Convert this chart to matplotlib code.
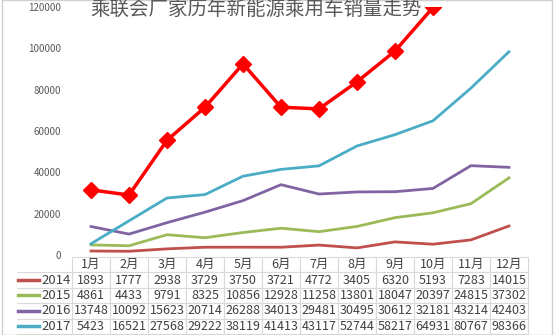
import matplotlib
matplotlib.use("Agg")
import matplotlib.pyplot as plt
from matplotlib.patches import Rectangle

plt.rcParams['font.family'] = ['Noto Sans CJK SC', 'DejaVu Sans']

months = ["1月", "2月", "3月", "4月", "5月", "6月", "7月", "8月", "9月", "10月", "11月", "12月"]
years = ["2014", "2015", "2016", "2017"]
sales_2014 = [1893, 1777, 2938, 3729, 3750, 3721, 4772, 3405, 6320, 5193, 7283, 14015]
sales_2015 = [4861, 4433, 9791, 8325, 10856, 12928, 11258, 13801, 18047, 20397, 24815, 37302]
sales_2016 = [13748, 10092, 15623, 20714, 26288, 34013, 29481, 30495, 30612, 32181, 43214, 42403]
sales_2017 = [5423, 16521, 27568, 29222, 38119, 41413, 43117, 52744, 58217, 64931, 80767, 98366]
# unlabeled red series (Jan-Oct only)
sales_red = [31500, 29000, 55500, 71500, 92500, 71500, 70700, 83800, 98700, 119800]

series = [sales_2014, sales_2015, sales_2016, sales_2017]
colors = ["#c0504d", "#9bbb59", "#8064a2", "#4bacc6"]

fig = plt.figure(figsize=(5.54, 3.35), dpi=100)
ax = fig.add_axes([0.130, 0.239, 0.823, 0.740])

x = range(len(months))
for vals, c in zip(series, colors):
    ax.plot(x, vals, color=c, lw=2)
ax.plot(range(len(sales_red)), sales_red, color="#ff0000", lw=2.5,
        marker="D", markersize=8)

ax.set_xlim(-0.5, 11.5)
ax.set_ylim(0, 120000)
ax.set_yticks(range(0, 120001, 20000))
ax.set_xticks([])
ax.tick_params(axis="y", length=0, pad=8, labelsize=7, labelcolor="#595959")
for s in ax.spines.values():
    s.set_visible(False)

cells = [[str(v) for v in vals] for vals in series]
tab = ax.table(cellText=cells, rowLabels=years, colLabels=months,
               colWidths=[1 / 12] * 12,
               cellLoc="center", rowLoc="right",
               bbox=[0, -0.319, 1, 0.311])
tab._autoColumns = []
tab.auto_set_font_size(False)
tab.set_fontsize(9)
for (r, c), cell in tab.get_celld().items():
    cell.set_edgecolor("#d9d9d9")
    cell.set_linewidth(0.8)
    cell.get_text().set_color("#404040")
    cell.PAD = 0.02
    if c == -1:
        cell.set_width(0.12)
        cell.visible_edges = "BT"
        cell.get_text().set_fontsize(9.5)

# legend keys in the row label column
row_h = 0.311 / 5
for i, c in enumerate(colors):
    yc = -0.319 + 0.311 - row_h * (i + 1.5)
    ax.plot([-0.118, -0.072], [yc, yc], color=c, lw=2.5,
            transform=ax.transAxes, clip_on=False)

fig.text(0.462, 0.972, "乘联会厂家历年新能源乘用车销量走势", ha="center", va="center",
         fontsize=14, color="#595959")

fig.patches.append(Rectangle((0.004, 0.0), 0.992, 0.999, transform=fig.transFigure,
                             fill=False, edgecolor="#d0d0d0", lw=1))

fig.savefig("out.png", dpi=100)
